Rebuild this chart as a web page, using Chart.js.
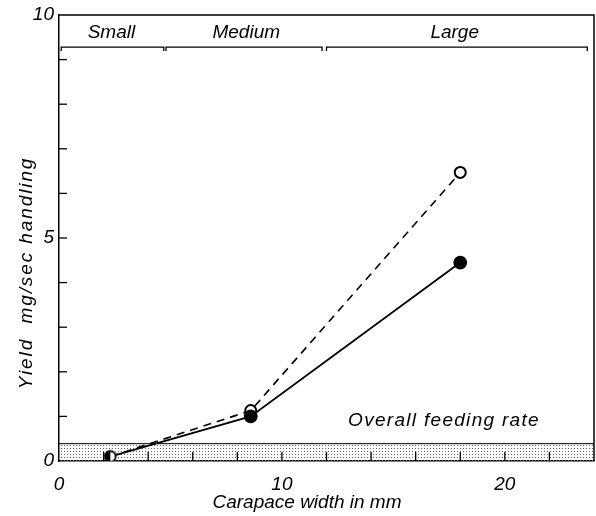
<!DOCTYPE html>
<html><head><meta charset="utf-8">
<script src="https://cdn.jsdelivr.net/npm/chart.js@4/dist/chart.umd.min.js"></script>
<style>html,body{margin:0;padding:0;background:#fff}#wrap{width:596px;height:516px}</style>
</head><body><div id="wrap"><canvas id="c" width="596" height="516"></canvas></div>
<script>
const carapaceWidth = [2.3, 8.6, 18.0];
const yieldSolid = [0.1, 1.0, 4.45];
const yieldOpen = [0.1, 1.13, 6.47];
const xTickLabels = [0, 10, 20];
const yTickLabels = [0, 5, 10];
const sizeClasses = ['Small', 'Medium', 'Large'];
const sizeClassFrom = [0.1, 4.8, 12.0];
const sizeClassTo = [4.7, 11.8, 23.7];
const sizeClassLabelAt = [2.35, 8.4, 17.75];
const overallFeedingRate = 0.4;
const xTitle = 'Carapace width in mm';
const yTitle = 'Yield  mg/sec handling';
const bandLabel = 'Overall feeding rate';

const FONT = '"Liberation Sans", Arial, sans-serif';

function halfDot(r){
  const c=document.createElement('canvas'); const s=2*r+4; c.width=c.height=s;
  const g=c.getContext('2d'); const m=s/2;
  g.fillStyle='#fff'; g.beginPath(); g.arc(m,m,r,0,2*Math.PI); g.fill();
  g.fillStyle='#000'; g.beginPath(); g.arc(m,m,r,Math.PI/2,3*Math.PI/2); g.closePath(); g.fill();
  g.lineWidth=1.8; g.strokeStyle='#000'; g.beginPath(); g.arc(m,m,r-0.5,0,2*Math.PI); g.stroke();
  return c;
}
const half = halfDot(6);

function dotPattern(ctx){
  const c=document.createElement('canvas'); c.width=3; c.height=3;
  const g=c.getContext('2d'); g.fillStyle='#666'; g.fillRect(1,1,1,1);
  return ctx.createPattern(c,'repeat');
}

const decor = {
  id:'decor',
  beforeDatasetsDraw(chart){
    const {ctx, chartArea:a, scales:{x,y}} = chart;
    const yTop = y.getPixelForValue(overallFeedingRate);
    ctx.save();
    ctx.fillStyle = dotPattern(ctx);
    ctx.fillRect(a.left, yTop, a.right-a.left, a.bottom-yTop);
    ctx.strokeStyle='#000'; ctx.lineWidth=1;
    ctx.beginPath(); ctx.moveTo(a.left, yTop+0.5); ctx.lineTo(a.right, yTop+0.5); ctx.stroke();
    ctx.restore();
  },
  afterDraw(chart){
    const {ctx, chartArea:a, scales:{x,y}} = chart;
    ctx.save();
    ctx.strokeStyle='#000';
    ctx.lineWidth=1.5;
    ctx.beginPath(); ctx.moveTo(a.left, a.top); ctx.lineTo(a.right, a.top); ctx.lineTo(a.right, a.bottom); ctx.stroke();
    ctx.lineWidth=1.3;
    y.ticks.forEach(t=>{ if(t.value>0 && t.value<10){ const p=y.getPixelForValue(t.value);
      ctx.beginPath(); ctx.moveTo(a.left,p); ctx.lineTo(a.left+8,p); ctx.stroke(); }});
    x.ticks.forEach(t=>{ if(t.value>0 && t.value<24){ const p=x.getPixelForValue(t.value);
      ctx.beginPath(); ctx.moveTo(p,a.bottom); ctx.lineTo(p,a.bottom-9); ctx.stroke(); }});
    ctx.fillStyle='#000';
    ctx.font='italic 19px '+FONT; ctx.textAlign='center'; ctx.textBaseline='middle';
    const by = y.getPixelForValue(9.28);
    sizeClasses.forEach((n,i)=>{
      const x0=x.getPixelForValue(sizeClassFrom[i]), x1=x.getPixelForValue(sizeClassTo[i]);
      ctx.beginPath(); ctx.moveTo(x0,by+4); ctx.lineTo(x0,by); ctx.lineTo(x1,by); ctx.lineTo(x1,by+4); ctx.stroke();
      ctx.fillText(n, x.getPixelForValue(sizeClassLabelAt[i]), y.getPixelForValue(9.6));
    });
    ctx.letterSpacing='1.3px';
    ctx.fillText(bandLabel, x.getPixelForValue(17.27), y.getPixelForValue(0.9));
    ctx.letterSpacing='0px';
    ctx.fillText(xTitle, 307, 503);
    ctx.letterSpacing='1.9px';
    ctx.translate(27, 273); ctx.rotate(-Math.PI/2); ctx.fillText(yTitle, 0, 0);
    ctx.restore();
  }
};

new Chart(document.getElementById('c'), {
  type:'scatter',
  data:{ datasets:[
    { label:'solid', data: carapaceWidth.map((v,i)=>({x:v,y:yieldSolid[i]})), showLine:true,
      borderColor:'#000', borderWidth:1.8, backgroundColor:'#000',
      pointStyle: c => c.dataIndex===0 ? half : 'circle', pointRadius:6, pointBorderColor:'#000', pointBackgroundColor:'#000' },
    { label:'open', data: carapaceWidth.map((v,i)=>({x:v,y:yieldOpen[i]})), showLine:true,
      borderColor:'#000', borderWidth:1.6, borderDash:[8,6], backgroundColor:'#fff',
      pointRadius: c => c.dataIndex===0 ? 0 : 5.5, pointBorderWidth:2, pointBorderColor:'#000', pointBackgroundColor:'#fff' }
  ]},
  options:{
    responsive:false, devicePixelRatio:1, animation:false,
    layout:{ autoPadding:false, padding:{ top:15, right:2, left:0, bottom:0 } },
    plugins:{ legend:{display:false}, tooltip:{enabled:false} },
    scales:{
      x:{ type:'linear', min:0, max:24,
        border:{display:true, color:'#000', width:1.5},
        grid:{ display:false, drawTicks:false },
        ticks:{ stepSize:2, autoSkip:false, maxRotation:0, padding:12, color:'#000',
          font:{family:FONT, size:19, style:'italic'},
          callback: v => xTickLabels.includes(v) ? String(v) : '' },
        afterFit: s => { s.height = 55; s.paddingRight = 0; s.paddingLeft = 0; } },
      y:{ type:'linear', min:0, max:10,
        border:{display:true, color:'#000', width:1.5},
        grid:{ display:false, drawTicks:false },
        ticks:{ stepSize:1, autoSkip:false, padding:5, color:'#000',
          font:{family:FONT, size:19, style:'italic'},
          callback: v => yTickLabels.includes(v) ? String(v) : '' },
        afterFit: s => { s.width = 59; s.paddingTop = 0; s.paddingBottom = 0; } }
    }
  },
  plugins:[decor]
});
</script></body></html>
